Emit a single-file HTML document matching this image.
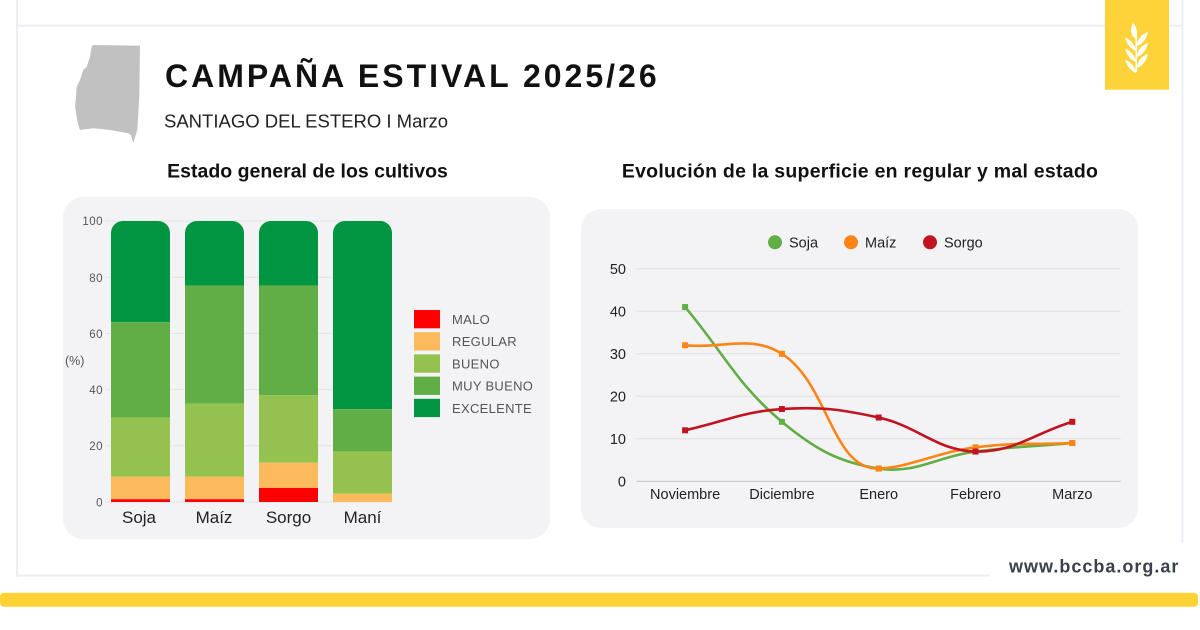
<!DOCTYPE html>
<html>
<head>
<meta charset="utf-8">
<style>
  html, body { margin: 0; padding: 0; background: #ffffff; }
  body { width: 1200px; height: 630px; overflow: hidden; }
  svg { display: block; font-family: "Liberation Sans", "DejaVu Sans", sans-serif; }
</style>
</head>
<body>
<svg width="1200" height="630" viewBox="0 0 1200 630" xmlns="http://www.w3.org/2000/svg">
  <!-- frame -->
  <line x1="17" y1="0" x2="17" y2="577" stroke="#ededf3" stroke-width="2"/>
  <line x1="17" y1="25.7" x2="1183" y2="25.7" stroke="#ededf3" stroke-width="2"/>
  <line x1="1182.3" y1="0" x2="1182.3" y2="543" stroke="#ededf3" stroke-width="2"/>
  <line x1="17" y1="575.5" x2="990" y2="575.5" stroke="#ededf3" stroke-width="2"/>

  <!-- yellow badge -->
  <rect x="1105" y="0" width="64" height="89.7" fill="#fed33a"/>
  <g fill="#ffffff">
    <path d="M1136.3,72 L1136.3,36" stroke="#ffffff" stroke-width="1.6"/>
    <path d="M1133,23 C1130,29 1130,35 1136,39 C1138,33 1137,27 1133,23 Z"/>
    <path d="M1125,37.5 C1127,44 1130,48.5 1135.8,51 C1135.5,45 1131,40 1125,37.5 Z"/>
    <path d="M1125,48.5 C1127,55 1130,59.5 1135.8,62 C1135.5,56 1131,51 1125,48.5 Z"/>
    <path d="M1125,59.5 C1127,66 1130,70 1135.8,73 C1135.5,67 1131,62 1125,59.5 Z"/>
    <path d="M1148,32 C1142,34 1138,38 1136.8,46 C1142.5,44 1146.5,39 1148,32 Z"/>
    <path d="M1148,43 C1142,45 1138,49 1136.8,57 C1142.5,55 1146.5,50 1148,43 Z"/>
    <path d="M1148,54 C1142,56 1138,60 1136.8,68 C1142.5,66 1146.5,61 1148,54 Z"/>
  </g>

  <!-- province map -->
  <path d="M93,45 L140,45.7 L139.3,96.7 L137.3,130 L133.3,143 L131,135 L128.3,133.3 L110,130 L93.3,128.3 L80,130 L78,124 L76.7,116.7 L75,106.7 L76,96.7 L76.7,86.7 L80,80 L83.3,70 L86.7,66.7 L90,56.7 L91.7,46.7 Z" fill="#c1c1c1"/>

  <!-- titles -->
  <text x="165" y="87" font-size="32" font-weight="bold" letter-spacing="3.0" fill="#111111">CAMPAÑA ESTIVAL 2025/26</text>
  <text x="164" y="127.5" font-size="18.5" fill="#222222">SANTIAGO DEL ESTERO I Marzo</text>
  <text x="307.5" y="177.5" font-size="19.5" font-weight="bold" text-anchor="middle" fill="#111111">Estado general de los cultivos</text>
  <text x="860" y="177.5" font-size="19.5" font-weight="bold" text-anchor="middle" letter-spacing="0.25" fill="#111111">Evolución de la superficie en regular y mal estado</text>

  <!-- ===== Bar chart panel ===== -->
  <rect x="63" y="197" width="487" height="342" rx="20" ry="20" fill="#f3f3f5"/>
  <g stroke="#e3e3e7" stroke-width="1">
    <line x1="105" y1="221" x2="392" y2="221"/>
    <line x1="105" y1="277.2" x2="392" y2="277.2"/>
    <line x1="105" y1="333.4" x2="392" y2="333.4"/>
    <line x1="105" y1="389.6" x2="392" y2="389.6"/>
    <line x1="105" y1="445.8" x2="392" y2="445.8"/>
    <line x1="105" y1="502" x2="392" y2="502"/>
  </g>
  <g font-size="11.5" fill="#555555" text-anchor="end" letter-spacing="0.5">
    <text x="103" y="225">100</text>
    <text x="103" y="282">80</text>
    <text x="103" y="338">60</text>
    <text x="103" y="394">40</text>
    <text x="103" y="450">20</text>
    <text x="103" y="506.5">0</text>
  </g>
  <text x="65" y="365" font-size="12.5" fill="#555555">(%)</text>

  <!-- Soja -->
  <path d="M111,322.16 V233 A12,12 0 0 1 123,221 H158 A12,12 0 0 1 170,233 V322.16 Z" fill="#009540"/>
  <rect x="111" y="322.16" width="59" height="95.54" fill="#61ae47"/>
  <rect x="111" y="417.7" width="59" height="59.01" fill="#93c24f"/>
  <rect x="111" y="476.71" width="59" height="22.48" fill="#fcbb5b"/>
  <rect x="111" y="499.19" width="59" height="2.81" fill="#ff0000"/>
  <!-- Maíz -->
  <path d="M185,285.63 V233 A12,12 0 0 1 197,221 H232 A12,12 0 0 1 244,233 V285.63 Z" fill="#009540"/>
  <rect x="185" y="285.63" width="59" height="118.02" fill="#61ae47"/>
  <rect x="185" y="403.65" width="59" height="73.06" fill="#93c24f"/>
  <rect x="185" y="476.71" width="59" height="22.48" fill="#fcbb5b"/>
  <rect x="185" y="499.19" width="59" height="2.81" fill="#ff0000"/>
  <!-- Sorgo -->
  <path d="M259,285.63 V233 A12,12 0 0 1 271,221 H306 A12,12 0 0 1 318,233 V285.63 Z" fill="#009540"/>
  <rect x="259" y="285.63" width="59" height="109.59" fill="#61ae47"/>
  <rect x="259" y="395.22" width="59" height="67.44" fill="#93c24f"/>
  <rect x="259" y="462.66" width="59" height="25.29" fill="#fcbb5b"/>
  <rect x="259" y="487.95" width="59" height="14.05" fill="#ff0000"/>
  <!-- Maní -->
  <path d="M333,409.27 V233 A12,12 0 0 1 345,221 H380 A12,12 0 0 1 392,233 V409.27 Z" fill="#009540"/>
  <rect x="333" y="409.27" width="59" height="42.15" fill="#61ae47"/>
  <rect x="333" y="451.42" width="59" height="42.15" fill="#93c24f"/>
  <rect x="333" y="493.57" width="59" height="8.43" fill="#fcbb5b"/>

  <g font-size="17" fill="#222222" text-anchor="middle">
    <text x="139" y="523">Soja</text>
    <text x="214" y="523">Maíz</text>
    <text x="288.5" y="523">Sorgo</text>
    <text x="362.5" y="523">Maní</text>
  </g>

  <!-- bar legend -->
  <rect x="414" y="310" width="26" height="18.3" fill="#ff0000"/>
  <rect x="414" y="332.2" width="26" height="18.3" fill="#fcbb5b"/>
  <rect x="414" y="354.4" width="26" height="18.3" fill="#93c24f"/>
  <rect x="414" y="376.6" width="26" height="18.3" fill="#61ae47"/>
  <rect x="414" y="398.8" width="26" height="18.3" fill="#009540"/>
  <g font-size="13" fill="#555555" letter-spacing="0.3">
    <text x="452" y="324">MALO</text>
    <text x="452" y="346.2">REGULAR</text>
    <text x="452" y="368.4">BUENO</text>
    <text x="452" y="390.6">MUY BUENO</text>
    <text x="452" y="412.8">EXCELENTE</text>
  </g>

  <!-- ===== Line chart panel ===== -->
  <rect x="581" y="209" width="557" height="319" rx="20" ry="20" fill="#f3f3f5"/>
  <g stroke="#dfdfe3" stroke-width="1">
    <line x1="636.7" y1="268.8" x2="1120.7" y2="268.8"/>
    <line x1="636.7" y1="311.3" x2="1120.7" y2="311.3"/>
    <line x1="636.7" y1="353.8" x2="1120.7" y2="353.8"/>
    <line x1="636.7" y1="396.3" x2="1120.7" y2="396.3"/>
    <line x1="636.7" y1="438.8" x2="1120.7" y2="438.8"/>
  </g>
  <line x1="636.7" y1="481.3" x2="1120.7" y2="481.3" stroke="#c6c6c8" stroke-width="1.2"/>

  <g font-size="14.5" fill="#222222" text-anchor="end">
    <text x="626" y="274">50</text>
    <text x="626" y="316.5">40</text>
    <text x="626" y="359">30</text>
    <text x="626" y="401.5">20</text>
    <text x="626" y="444">10</text>
    <text x="626" y="486.5">0</text>
  </g>
  <g font-size="14.5" fill="#222222" text-anchor="middle">
    <text x="685.1" y="499">Noviembre</text>
    <text x="781.9" y="499">Diciembre</text>
    <text x="878.7" y="499">Enero</text>
    <text x="975.5" y="499">Febrero</text>
    <text x="1072.3" y="499">Marzo</text>
  </g>

  <!-- line legend -->
  <circle cx="775" cy="242.3" r="7" fill="#62ae45"/>
  <text x="789" y="247.3" font-size="14.5" fill="#222222">Soja</text>
  <circle cx="851" cy="242.3" r="7" fill="#ff8416"/>
  <text x="865" y="247.3" font-size="14.5" fill="#222222">Maíz</text>
  <circle cx="930" cy="242.3" r="7" fill="#c1141f"/>
  <text x="944" y="247.3" font-size="14.5" fill="#222222">Sorgo</text>

  <!-- series -->
  <g fill="none" stroke-width="2.6" stroke-linejoin="round" stroke-linecap="round">
    <path stroke="#62ae45" d="M685.1,307.05 C723.82,352.95 736.77,384.15 781.9,421.8 C814.21,448.75 838.24,462.33 878.7,468.55 C915.68,474.23 936.57,456.68 975.5,451.55 C1014.01,446.48 1033.58,446.45 1072.3,443.05"/>
    <path stroke="#ff8416" d="M685.1,345.3 C723.82,348.7 751.47,334.43 781.9,353.8 C828.91,383.73 832.06,470.12 878.7,468.55 C909.5,467.52 936.35,452.46 975.5,447.3 C1013.79,442.26 1033.58,444.75 1072.3,443.05"/>
    <path stroke="#c1141f" d="M685.1,430.3 C723.82,421.8 742.79,411.63 781.9,409.05 C820.23,406.53 841.03,409.28 878.7,417.55 C918.47,426.28 936.53,450.69 975.5,451.55 C1013.97,452.39 1033.58,433.7 1072.3,421.8"/>
  </g>
  <g fill="#62ae45">
    <rect x="682.1" y="304.05" width="6" height="6"/>
    <rect x="778.9" y="418.8" width="6" height="6"/>
    <rect x="875.7" y="465.55" width="6" height="6"/>
    <rect x="972.5" y="448.55" width="6" height="6"/>
    <rect x="1069.3" y="440.05" width="6" height="6"/>
  </g>
  <g fill="#ff8416">
    <rect x="682.1" y="342.3" width="6" height="6"/>
    <rect x="778.9" y="350.8" width="6" height="6"/>
    <rect x="875.7" y="465.55" width="6" height="6"/>
    <rect x="972.5" y="444.3" width="6" height="6"/>
    <rect x="1069.3" y="440.05" width="6" height="6"/>
  </g>
  <g fill="#c1141f">
    <rect x="682.1" y="427.3" width="6" height="6"/>
    <rect x="778.9" y="406.05" width="6" height="6"/>
    <rect x="875.7" y="414.55" width="6" height="6"/>
    <rect x="972.5" y="448.55" width="6" height="6"/>
    <rect x="1069.3" y="418.8" width="6" height="6"/>
  </g>

  <!-- footer -->
  <text x="1009" y="572.3" font-size="18" font-weight="bold" letter-spacing="1" fill="#3b4049">www.bccba.org.ar</text>
  <rect x="0" y="592.7" width="1198" height="14" rx="4" ry="4" fill="#fed234"/>
</svg>
</body>
</html>
